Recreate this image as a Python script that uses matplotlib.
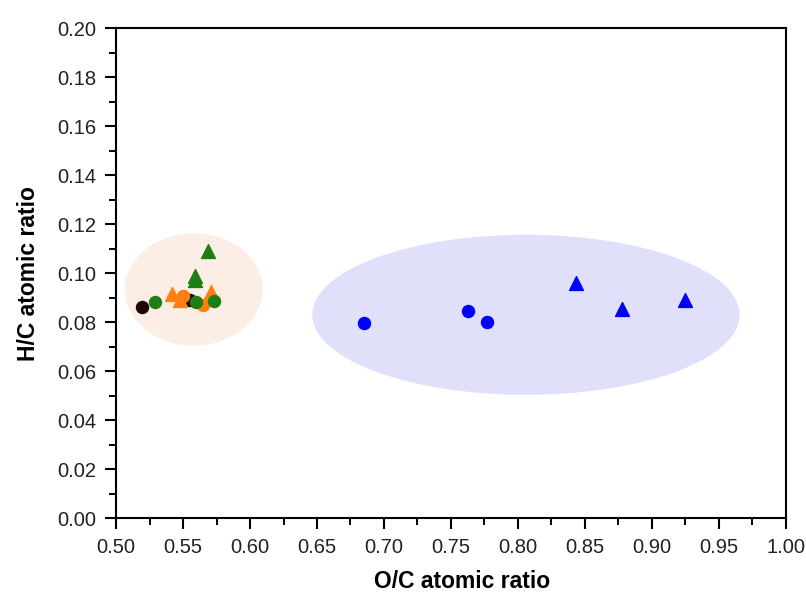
"""Van Krevelen-style scatter: H/C vs O/C atomic ratio with grouping ellipses."""

import matplotlib

matplotlib.use("Agg")

import matplotlib.pyplot as plt  # noqa: E402
from matplotlib.patches import Ellipse  # noqa: E402
from matplotlib.ticker import MultipleLocator  # noqa: E402

plt.rcParams["font.family"] = ["Liberation Sans", "DejaVu Sans"]

# Series values (O/C, H/C)
black_circle_oc = [0.519, 0.555]
black_circle_hc = [0.086, 0.089]

green_circle_oc = [0.529, 0.560, 0.573]
green_circle_hc = [0.0883, 0.0882, 0.0887]
green_tri_oc = [0.559, 0.559, 0.569]
green_tri_hc = [0.0972, 0.0990, 0.1090]

orange_circle_oc = [0.550, 0.565]
orange_circle_hc = [0.0905, 0.0868]
orange_tri_oc = [0.5415, 0.548, 0.571]
orange_tri_hc = [0.0914, 0.0890, 0.0925]

blue_circle_oc = [0.685, 0.763, 0.777]
blue_circle_hc = [0.0795, 0.0844, 0.0799]
blue_tri_oc = [0.843, 0.878, 0.925]
blue_tri_hc = [0.0961, 0.0852, 0.0892]

x_ticks = [0.50, 0.55, 0.60, 0.65, 0.70, 0.75, 0.80, 0.85, 0.90, 0.95, 1.00]
y_ticks = [0.00, 0.02, 0.04, 0.06, 0.08, 0.10, 0.12, 0.14, 0.16, 0.18, 0.20]

fig = plt.figure(figsize=(8.06, 5.97), dpi=100)
ax = fig.add_axes([0.144, 0.132, 0.831, 0.821])

# shaded group regions
ax.add_patch(Ellipse((0.558, 0.0933), 0.103, 0.0458,
                     facecolor="#FCEEE4", edgecolor="none", zorder=0))
ax.add_patch(Ellipse((0.806, 0.083), 0.319, 0.0653,
                     facecolor="#E0E0FB", edgecolor="none", zorder=0))

ms_c, ms_t = 75, 100
ax.scatter(black_circle_oc, black_circle_hc, s=ms_c, marker="o",
           color="#1A0A05", zorder=3)
ax.scatter(green_tri_oc, green_tri_hc, s=ms_t, marker="^",
           color="#1E7D14", zorder=3)
ax.scatter(orange_tri_oc, orange_tri_hc, s=ms_t, marker="^",
           color="#FF8010", zorder=4)
ax.scatter(orange_circle_oc, orange_circle_hc, s=ms_c, marker="o",
           color="#FF8010", zorder=4)
ax.scatter(green_circle_oc, green_circle_hc, s=ms_c, marker="o",
           color="#1E7D14", zorder=4)
ax.scatter(blue_circle_oc, blue_circle_hc, s=ms_c, marker="o",
           color="#0000FF", zorder=3)
ax.scatter(blue_tri_oc, blue_tri_hc, s=ms_t, marker="^",
           color="#0000FF", zorder=3)

ax.set_xlim(0.5, 1.0)
ax.set_ylim(0.0, 0.2)
ax.set_xticks(x_ticks)
ax.set_xticklabels([f"{v:.2f}" for v in x_ticks])
ax.set_yticks(y_ticks)
ax.set_yticklabels([f"{v:.2f}" for v in y_ticks])
ax.xaxis.set_minor_locator(MultipleLocator(0.025))
ax.yaxis.set_minor_locator(MultipleLocator(0.01))
ax.tick_params(which="major", direction="out", length=8, width=1.5,
               labelsize=14.5, colors="black", pad=6)
ax.tick_params(which="minor", direction="out", length=5, width=1.4)
ax.tick_params(axis="both", labelcolor="#222222")
for s in ax.spines.values():
    s.set_linewidth(1.5)

ax.set_xlabel("O/C atomic ratio", fontsize=16.5, fontweight="bold")
ax.set_ylabel("H/C atomic ratio", fontsize=16.5, fontweight="bold")
ax.xaxis.set_label_coords(0.516, -0.105)
ax.yaxis.set_label_coords(-0.113, 0.5)

fig.savefig("out.png", dpi=100)
plt.close(fig)
